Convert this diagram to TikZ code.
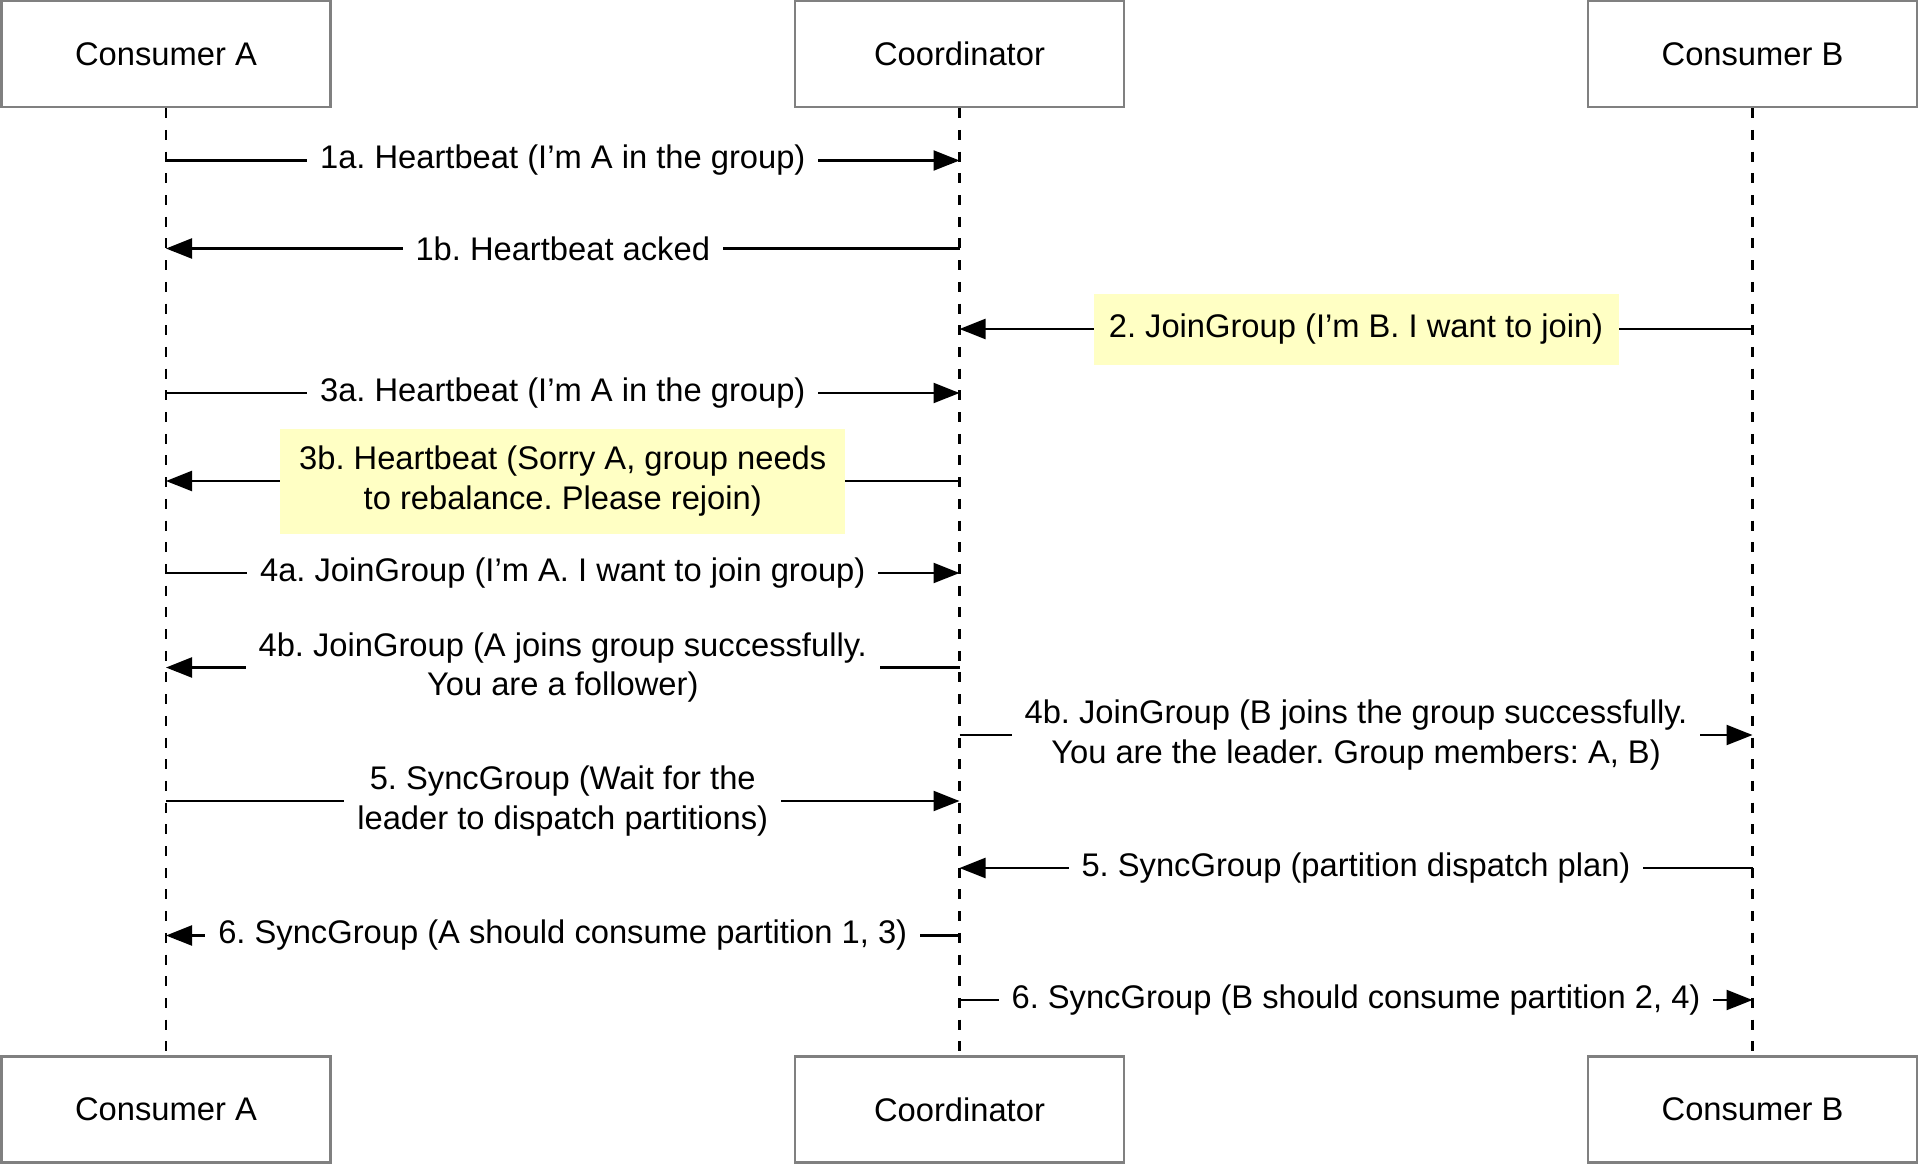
\documentclass[tikz,border=0pt]{standalone}
\usepackage{fontspec}
\setmainfont{Liberation Sans}
\frenchspacing
\usetikzlibrary{arrows.meta}
\definecolor{boxgray}{RGB}{128,128,128}
\definecolor{noteyellow}{RGB}{255,255,196}
\newcommand{\sqmsg}[6]{%
  \coordinate (#1s) at (#2.south |- 0,#4);
  \coordinate (#1e) at (#3.south |- 0,#4);
  \draw[msgline] (#1s) -- (#1e) node[midway, #6] (#1) {#5};
}
\begin{document}
\begin{tikzpicture}[x=1pt,y=-1pt,
  every node/.style={font=\fontsize{32.7}{39.2}\selectfont},
  actor/.style={draw=boxgray, line width=2.5pt, fill=white, minimum width=329pt, minimum height=106pt, inner sep=0pt},
  lifeline/.style={line width=2.2pt, dash pattern=on 10pt off 11.7pt},
  msgline/.style={line width=2.3pt, -{Triangle[length=26pt,width=20pt]}},
  lbl/.style={fill=white, inner xsep=13pt, inner ysep=2pt, align=center},
  note/.style={fill=noteyellow, inner sep=0pt, align=center}
]
\useasboundingbox (0,0) rectangle (1920,1165);
\node[actor] (At) at (166,54) {Consumer A};
\node[actor] (Ct) at (959.5,54) {Coordinator};
\node[actor] (Bt) at (1752.5,54) {Consumer B};
\node[actor] (Ab) at (166,1109.5) {Consumer A};
\node[actor] (Cb) at (959.5,1109.5) {Coordinator};
\node[actor] (Bb) at (1752.5,1109.5) {Consumer B};
\draw[lifeline] (At) -- (Ab);
\draw[lifeline] (Ct) -- (Cb);
\draw[lifeline] (Bt) -- (Bb);
\sqmsg{m1a}{At}{Ct}{160.5}{1a. Heartbeat (I’m A in the group)}{lbl}
\sqmsg{m1b}{Ct}{At}{248.5}{1b. Heartbeat acked}{lbl}
\sqmsg{m2}{Bt}{Ct}{329}{2. JoinGroup (I’m B. I want to join)}{note, minimum width=525pt, minimum height=71pt}
\sqmsg{m3a}{At}{Ct}{393}{3a. Heartbeat (I’m A in the group)}{lbl}
\sqmsg{m3b}{Ct}{At}{481}{3b. Heartbeat (Sorry A, group needs\\to rebalance. Please rejoin)}{note, minimum width=565pt, minimum height=105pt}
\sqmsg{m4a}{At}{Ct}{573}{4a. JoinGroup (I’m A. I want to join group)}{lbl}
\sqmsg{m4bA}{Ct}{At}{667.5}{4b. JoinGroup (A joins group successfully.\\You are a follower)}{lbl}
\sqmsg{m4bB}{Ct}{Bt}{735}{4b. JoinGroup (B joins the group successfully.\\You are the leader. Group members: A, B)}{lbl}
\sqmsg{m5A}{At}{Ct}{801}{5. SyncGroup (Wait for the\\leader to dispatch partitions)}{lbl}
\sqmsg{m5B}{Bt}{Ct}{868}{5. SyncGroup (partition dispatch plan)}{lbl}
\sqmsg{m6A}{Ct}{At}{935.5}{6. SyncGroup (A should consume partition 1, 3)}{lbl}
\sqmsg{m6B}{Ct}{Bt}{1000}{6. SyncGroup (B should consume partition 2, 4)}{lbl}
\end{tikzpicture}
\end{document}
